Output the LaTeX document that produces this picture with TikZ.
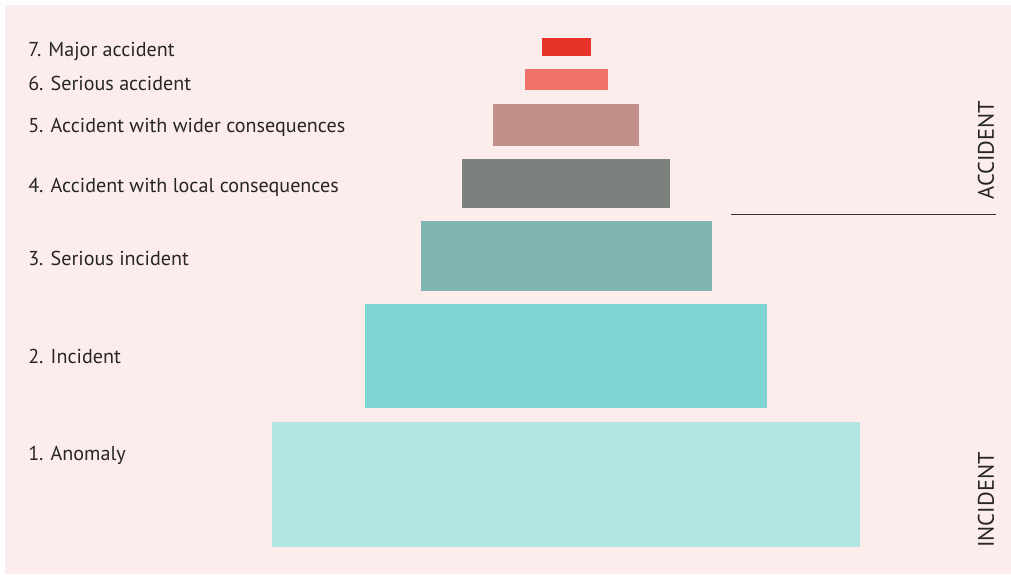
\documentclass[tikz,border=0pt]{standalone}
\usepackage{fontspec}
\setmainfont{PT Sans}

\definecolor{paper}{HTML}{FCEDEC}
\definecolor{lvlone}{HTML}{B3E5E3}
\definecolor{lvltwo}{HTML}{7FD4D4}
\definecolor{lvlthree}{HTML}{7FB4B1}
\definecolor{lvlfour}{HTML}{7A807B}
\definecolor{lvlfive}{HTML}{C48F8A}
\definecolor{lvlsix}{HTML}{F0736B}
\definecolor{lvlseven}{HTML}{E63329}

\begin{document}
\begin{tikzpicture}[x=0.025cm, y=-0.025cm,
    every node/.style={font=\fontsize{14.3}{17}\selectfont, text=black!85},
    bar/.style={inner sep=0pt, outer sep=0pt},
    lvl/.style={anchor=base west, inner sep=0pt},
    side/.style={rotate=90, font=\fontsize{16}{19}\selectfont}]

    % background
    \useasboundingbox (0,0) rectangle (1011,574);
    \fill[paper] (5,5) rectangle (1011,574);

    % pyramid levels
    \node[bar, fill=lvlone, minimum width=14.7cm, minimum height=3.125cm] (b1) at (566,484.5) {};
    \node[bar, fill=lvltwo, minimum width=10.05cm, minimum height=2.6cm] (b2) at (566,356) {};
    \node[bar, fill=lvlthree, minimum width=7.275cm, minimum height=1.75cm] (b3) at (566.5,256) {};
    \node[bar, fill=lvlfour, minimum width=5.2cm, minimum height=1.225cm] (b4) at (566,183.5) {};
    \node[bar, fill=lvlfive, minimum width=3.65cm, minimum height=1.05cm] (b5) at (566,125) {};
    \node[bar, fill=lvlsix, minimum width=2.075cm, minimum height=0.525cm] (b6) at (566.5,79.5) {};
    \node[bar, fill=lvlseven, minimum width=1.225cm, minimum height=0.45cm] (b7) at (566.5,47) {};

    % level names
    \node[lvl] (l7) at (28,56) {7. Major accident};
    \node[lvl] (l6) at (28,90) {6. Serious accident};
    \node[lvl] (l5) at (28,132) {5. Accident with wider consequences};
    \node[lvl] (l4) at (28,192) {4. Accident with local consequences};
    \node[lvl] (l3) at (28,265) {3. Serious incident};
    \node[lvl] (l2) at (28,363) {2. Incident};
    \node[lvl] (l1) at (28,460) {1. Anomaly};

    % split between incident and accident
    \coordinate (split-l) at (731,214.5);
    \coordinate (split-r) at (995.5,214.5);
    \draw[line width=1.2pt, black!80] (split-l) -- (split-r);

    \node[side] (accident) at (986,150) {ACCIDENT};
    \node[side] (incident) at (986,500) {INCIDENT};

\end{tikzpicture}
\end{document}
